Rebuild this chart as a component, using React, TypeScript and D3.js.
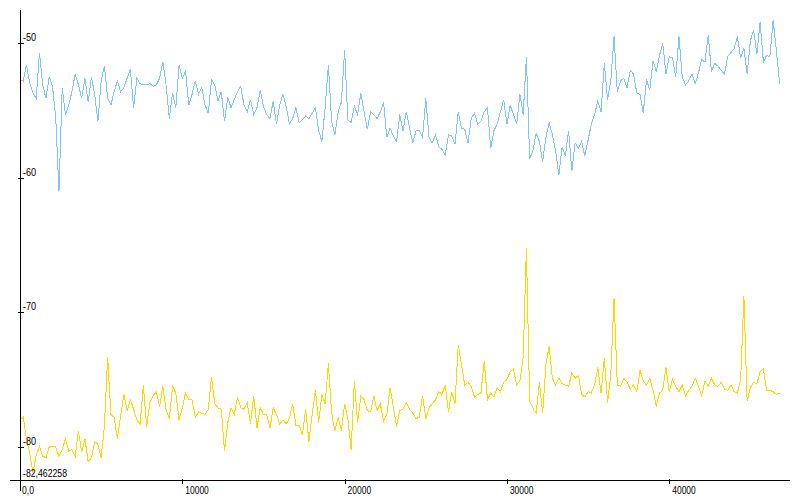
import React from "react";
import * as d3 from "d3";

// sample spacing along the x axis (data units)
const X_STEP = 200;

const blueSeries: number[] = [
  -52.7, -52.8, -51.6, -53.0, -53.7, -54.1, -50.7, -53.1, -54.1, -52.5,
  -53.2, -55.5, -61.0, -53.3, -55.3, -54.6, -53.6, -52.3, -53.1, -54.1,
  -52.6, -54.4, -52.5, -53.8, -55.8, -52.8, -51.7, -54.1, -54.6, -53.6,
  -52.8, -53.6, -53.3, -52.6, -51.9, -54.8, -52.6, -53.0, -53.1, -53.1,
  -53.0, -53.2, -53.1, -52.6, -51.4, -53.1, -55.6, -53.7,
  -54.8, -51.6, -52.6, -52.1, -54.6, -53.8, -52.8, -53.8, -53.3, -54.6,
  -55.2, -52.7, -53.1, -54.3, -53.6, -55.8, -54.0, -54.8, -54.2, -53.6,
  -53.2, -54.6, -55.1, -54.2, -55.3, -54.8, -53.5, -54.7, -55.3, -55.6,
  -54.3, -56.0, -54.6, -53.8, -54.7, -56.0, -55.6, -54.8, -55.9, -55.7,
  -55.4, -55.6, -55.2, -54.8, -56.5, -57.3, -54.8, -51.6, -55.8,
  -56.8, -55.1, -54.4, -50.5, -55.7, -55.9, -54.7, -55.3, -53.7, -55.1,
  -56.4, -55.1, -55.3, -55.6, -55.1, -54.4, -57.0, -56.3, -56.9, -57.3,
  -55.3, -56.5, -55.1, -56.3, -57.4, -56.5, -56.5, -57.0, -54.1, -57.0,
  -57.4, -56.8, -57.7, -57.9, -58.3, -56.8, -56.9, -57.5, -55.1, -56.3,
  -56.4, -57.4, -55.6, -55.2, -56.0, -55.8, -55.1, -54.8, -57.8, -56.5,
  -56.0, -55.1, -54.2, -56.0, -54.6, -55.3, -56.0, -53.8, -55.3, -51.0,
  -58.6, -58.0, -56.7, -57.3, -58.8, -57.0, -55.9, -56.8, -58.0, -59.8,
  -57.7, -58.4, -56.5, -59.5, -57.4, -57.8, -57.3, -58.4, -57.2, -56.0,
  -55.3, -54.3, -55.1, -51.5, -54.2, -52.8, -49.5, -53.6, -52.8, -52.6,
  -53.3, -52.0, -52.3, -53.7, -53.8, -55.2, -52.7, -53.5,
  -51.3, -52.1, -50.9, -50.0, -52.3, -51.0, -51.1, -52.5, -49.5, -52.5,
  -53.1, -52.8, -52.3, -53.0, -52.2, -51.2, -51.4, -49.4, -52.1, -51.5,
  -51.7, -52.0, -52.3, -51.0, -50.7, -50.4, -49.5, -51.1, -50.4, -52.3,
  -49.8, -49.0, -50.8, -48.4, -51.4, -50.9, -51.0, -48.3, -50.5, -53.0,
];

const yellowSeries: number[] = [
  -78.0, -77.8, -79.4, -80.5, -81.9, -80.6, -80.0, -80.7, -80.8, -80.0,
  -80.0, -80.0, -80.7, -80.2, -79.4, -80.3, -80.2, -80.7, -78.8, -80.4,
  -79.4, -81.1, -80.8, -79.6, -79.8, -80.8, -78.5, -73.3, -77.6, -77.8,
  -79.4, -77.7, -76.1, -77.3, -76.5, -77.2, -78.0, -78.3, -75.4, -78.5,
  -76.7, -76.2, -75.9, -77.0, -75.5, -77.2, -77.9, -75.5,
  -76.0, -78.0, -77.1, -76.0, -76.5, -76.5, -77.8, -77.4, -77.5, -77.6,
  -77.2, -74.8, -76.8, -77.1, -77.2, -80.3, -78.2, -77.1, -77.6, -76.3,
  -77.1, -77.2, -76.7, -78.3, -76.2, -78.6, -77.1, -77.6, -77.6, -78.6,
  -77.1, -77.6, -78.3, -78.0, -78.3, -77.9, -76.8, -78.4, -78.4, -79.1,
  -77.2, -79.6, -77.6, -75.8, -78.2, -76.1, -76.8, -73.8, -77.5,
  -78.8, -77.8, -78.8, -76.8, -77.9, -80.2, -75.1, -78.2, -76.2, -76.5,
  -77.3, -77.4, -76.2, -77.3, -76.8, -78.1, -77.6, -75.6, -77.0, -78.5,
  -77.3, -77.2, -76.7, -77.2, -77.5, -77.9, -77.8, -76.2, -77.9, -77.1,
  -76.8, -76.5, -75.9, -76.1, -75.4, -77.4, -75.9, -76.8, -72.4, -73.9,
  -75.4, -75.2, -75.5, -76.3, -76.1, -76.0, -73.6, -76.5, -76.0, -76.3,
  -75.6, -75.9, -75.2, -75.0, -74.4, -74.2, -75.4, -75.1, -73.4, -65.2,
  -76.6, -77.1, -77.5, -75.2, -77.5, -73.9, -72.5, -74.9, -75.4, -74.9,
  -75.3, -75.4, -75.5, -74.5, -74.9, -74.7, -76.1, -76.3, -75.9, -76.0,
  -75.4, -74.1, -76.0, -73.4, -76.7, -74.6, -68.9, -75.4, -75.5, -74.9,
  -75.2, -75.7, -75.4, -75.9, -74.3, -75.1, -75.4, -74.9,
  -75.8, -77.0, -76.0, -75.8, -74.1, -75.9, -75.0, -75.5, -75.9, -75.4,
  -76.2, -75.8, -75.5, -74.9, -75.5, -76.2, -75.1, -75.5, -74.9, -75.4,
  -75.5, -75.2, -75.7, -75.8, -75.4, -75.9, -76.0, -75.0, -68.8, -76.6,
  -75.6, -75.2, -75.3, -74.4, -74.2, -75.8, -75.8, -75.9, -76.1, -76.0,
];

const xTickValues: number[] = [10000, 20000, 30000, 40000];
const xTickLabels: string[] = ["10000", "20000", "30000", "40000"];
const yTickValues: number[] = [-50, -60, -70, -80];
const yTickLabels: string[] = ["-50", "-60", "-70", "-80"];
const yMinValue = -82.462258;
const yMinLabel = "-82,462258";
const originLabel = "0,0";
const yMaxValue = -47.53;
const xMaxValue = 47440;

const W = 800;
const H = 500;
const LEFT = 20;
const RIGHT = 790;
const TOP = 10;
const BOTTOM = 480;

const FONT = "'Liberation Sans', Arial, sans-serif";

// approximate advance widths of the narrow bitmap-like font in the reference
function labelWidth(s: string): number {
  let w = 0;
  for (const c of s) {
    if (c === "-") w += 3.8;
    else if (c === "," || c === ".") w += 2.6;
    else w += 4.7;
  }
  return w;
}

function Label({ x, y, text }: { x: number; y: number; text: string }) {
  return (
    <text
      x={x}
      y={y}
      fontSize={10.5}
      fontFamily={FONT}
      fill="#000"
      textLength={labelWidth(text)}
      lengthAdjust="spacingAndGlyphs"
    >
      {text}
    </text>
  );
}

export default function App() {
  const x = d3.scaleLinear().domain([0, xMaxValue]).range([LEFT, RIGHT]);
  const y = d3.scaleLinear().domain([yMinValue, yMaxValue]).range([BOTTOM, TOP]);

  const line = d3
    .line<number>()
    .x((_, i) => x(i * X_STEP))
    .y((d) => y(d));

  const px = (v: number) => Math.round(v) + 0.5;

  return (
    <svg
      width={W}
      height={H}
      style={{ position: "absolute", left: 0, top: 0, background: "#fff" }}
    >
      <rect x={0} y={0} width={W} height={H} fill="#fff" />
      <path
        d={line(blueSeries) || ""}
        fill="none"
        stroke="#80C4FF"
        strokeWidth={1}
        shapeRendering="crispEdges"
      />
      <path
        d={line(yellowSeries) || ""}
        fill="none"
        stroke="#FFD700"
        strokeWidth={1}
        shapeRendering="crispEdges"
      />
      {/* axes */}
      <line x1={px(x(0))} x2={px(x(0))} y1={TOP} y2={491} stroke="#000" shapeRendering="crispEdges" />
      <line x1={10} x2={RIGHT} y1={px(y(yMinValue))} y2={px(y(yMinValue))} stroke="#000" shapeRendering="crispEdges" />
      {yTickValues.map((v, i) => (
        <g key={"y" + v}>
          <line
            x1={px(x(0)) - 3}
            x2={px(x(0)) + 3}
            y1={px(y(v))}
            y2={px(y(v))}
            stroke="#000"
            shapeRendering="crispEdges"
          />
          <Label x={x(0) + 3} y={y(v) - 2} text={yTickLabels[i]} />
        </g>
      ))}
      <Label x={x(0) + 3} y={y(yMinValue) - 3} text={yMinLabel} />
      {xTickValues.map((v, i) => (
        <g key={"x" + v}>
          <line
            x1={px(x(v))}
            x2={px(x(v))}
            y1={px(y(yMinValue)) - 2}
            y2={px(y(yMinValue)) + 3}
            stroke="#000"
            shapeRendering="crispEdges"
          />
          <Label x={x(v) + 3} y={494} text={xTickLabels[i]} />
        </g>
      ))}
      <Label x={x(0) + 2} y={494} text={originLabel} />
    </svg>
  );
}
